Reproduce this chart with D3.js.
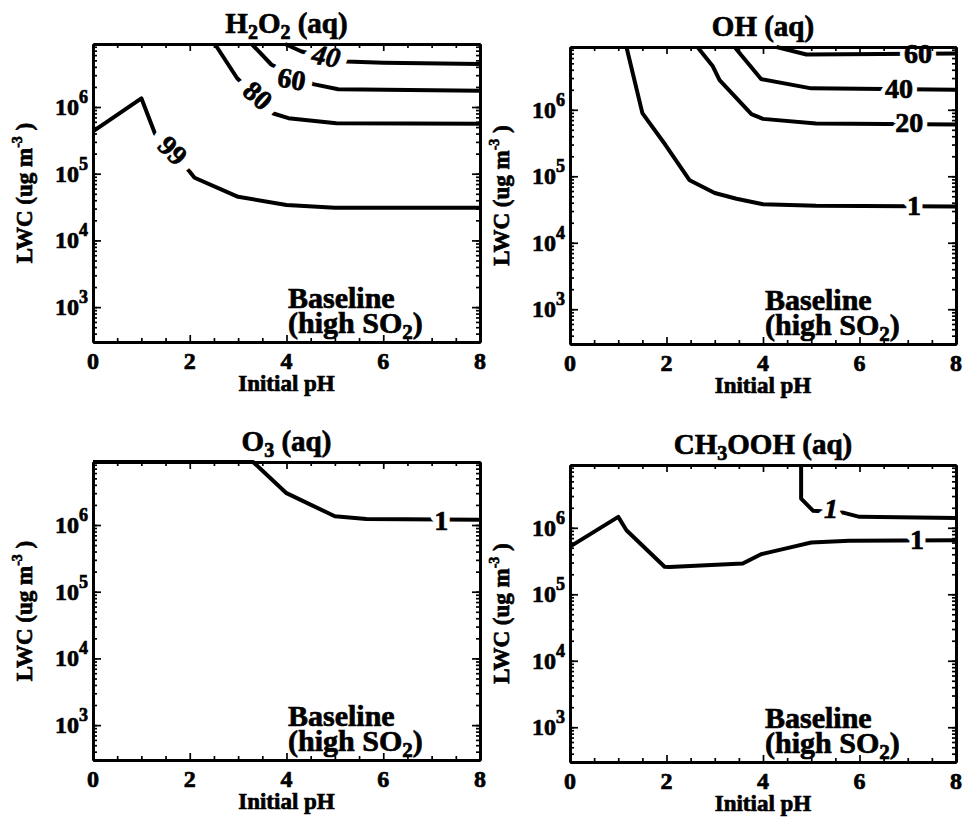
<!DOCTYPE html>
<html>
<head>
<meta charset="utf-8">
<script src="https://cdn.jsdelivr.net/npm/d3@7"></script>
<style>
  body { margin: 0; background: #fff; }
  text { font-family: "Liberation Serif", "Times New Roman", serif; font-weight: bold; fill: #000; }
  .ink { stroke: #000; stroke-width: 0.7px; }
</style>
</head>
<body>
<svg id="chart" width="966" height="826"></svg>
<script>
// ---- axis definitions ----
const xTickValues = [0, 2, 4, 6, 8];
const xMinorValues = [0.5, 1, 1.5, 2.5, 3, 3.5, 4.5, 5, 5.5, 6.5, 7, 7.5];
const yTickExponents = [3, 4, 5, 6];
const pHDomain = [0, 8];
const lwcDomain = [300, 8.8e6];

// ---- H2O2 (aq) contours: % remaining ----
const h2o2Levels = ["99", "80", "60", "40"];
const h2o2_99_pH  = [0, 1.0, 1.28, 2.0, 2.1, 3.0, 4.0, 5.0, 8.0];
const h2o2_99_lwc = [4.3e5, 1.35e6, 4.0e5, 1.07e5, 8.7e4, 4.5e4, 3.4e4, 3.1e4, 3.1e4];
const h2o2_80_pH  = [2.52, 2.98, 3.73, 4.04, 5.03, 8.0];
const h2o2_80_lwc = [8.8e6, 2.7e6, 8.0e5, 6.8e5, 5.7e5, 5.6e5];
const h2o2_60_pH  = [3.28, 3.69, 4.55, 5.07, 8.0];
const h2o2_60_lwc = [8.8e6, 4.3e6, 2.2e6, 1.85e6, 1.75e6];
const h2o2_40_pH  = [3.97, 4.31, 5.24, 6.0, 8.0];
const h2o2_40_lwc = [8.8e6, 6.8e6, 4.8e6, 4.6e6, 4.4e6];

// ---- OH (aq) contours ----
const ohLevels = ["1", "20", "40", "60"];
const oh_1_pH   = [1.17, 1.5, 1.98, 2.48, 3.0, 3.45, 4.0, 5.1, 8.0];
const oh_1_lwc  = [8.8e6, 8.9e5, 2.95e5, 8.7e4, 5.6e4, 4.6e4, 3.8e4, 3.6e4, 3.5e4];
const oh_20_pH  = [2.64, 2.96, 3.10, 3.76, 4.0, 5.1, 8.0];
const oh_20_lwc = [8.8e6, 4.5e6, 2.8e6, 8.6e5, 7.3e5, 6.2e5, 6.0e5];
const oh_40_pH  = [3.41, 3.96, 5.0, 8.0];
const oh_40_lwc = [8.8e6, 2.9e6, 2.1e6, 2.0e6];
const oh_60_pH  = [4.28, 4.9, 8.0];
const oh_60_lwc = [8.8e6, 6.8e6, 7.0e6];

// ---- O3 (aq) contour ----
const o3_1_pH  = [0, 3.31, 4.0, 5.0, 5.65, 8.0];
const o3_1_lwc = [8.8e6, 8.8e6, 3.0e6, 1.35e6, 1.23e6, 1.2e6];

// ---- CH3OOH (aq) contours ----
const ch3_low_pH   = [0, 1.0, 1.17, 1.96, 2.06, 3.58, 3.96, 4.48, 5.0, 5.79, 8.0];
const ch3_low_lwc  = [5.2e5, 1.46e6, 9.2e5, 2.6e5, 2.57e5, 2.9e5, 4.0e5, 4.9e5, 6.0e5, 6.4e5, 6.5e5];
const ch3_high_pH  = [4.79, 4.79, 5.04, 5.68, 6.0, 8.0];
const ch3_high_lwc = [8.8e6, 2.75e6, 1.8e6, 1.68e6, 1.46e6, 1.4e6];

const zip = (xs, ys) => xs.map((x, i) => [x, ys[i]]);

// panel layout and contents
const panels = [
  {
    left: 93, top: 44, width: 387, height: 298,
    title: [["H", 0], ["2", 1], ["O", 0], ["2", 1], [" (aq)", 0]],
    curves: [zip(h2o2_99_pH, h2o2_99_lwc), zip(h2o2_80_pH, h2o2_80_lwc),
             zip(h2o2_60_pH, h2o2_60_lwc), zip(h2o2_40_pH, h2o2_40_lwc)],
    labels: [
      { text: h2o2Levels[0], pH: 1.65, lwc: 2.25e5, rot: 45, gap: 22 },
      { text: h2o2Levels[1], pH: 3.41, lwc: 1.5e6, rot: 42, gap: 20 },
      { text: h2o2Levels[2], pH: 4.11, lwc: 2.65e6, rot: 10, gap: 16 },
      { text: h2o2Levels[3], pH: 4.82, lwc: 5.85e6, rot: 10, gap: 16, italic: true }
    ]
  },
  {
    left: 570, top: 47, width: 386, height: 297,
    title: [["OH (aq)", 0]],
    curves: [zip(oh_1_pH, oh_1_lwc), zip(oh_20_pH, oh_20_lwc),
             zip(oh_40_pH, oh_40_lwc), zip(oh_60_pH, oh_60_lwc)],
    labels: [
      { text: ohLevels[3], pH: 7.21, lwc: 7.0e6, rot: 0, gap: 10 },
      { text: ohLevels[2], pH: 6.82, lwc: 2.15e6, rot: 0, gap: 10 },
      { text: ohLevels[1], pH: 7.03, lwc: 6.6e5, rot: 0, gap: 10 },
      { text: ohLevels[0], pH: 7.13, lwc: 3.65e4, rot: 0, gap: 12 }
    ]
  },
  {
    left: 93, top: 462, width: 387, height: 298,
    title: [["O", 0], ["3", 1], [" (aq)", 0]],
    curves: [zip(o3_1_pH, o3_1_lwc)],
    labels: [{ text: "1", pH: 7.2, lwc: 1.2e6, rot: 0, gap: 12 }]
  },
  {
    left: 570, top: 465, width: 386, height: 297,
    title: [["CH", 0], ["3", 1], ["OOH (aq)", 0]],
    curves: [zip(ch3_low_pH, ch3_low_lwc), zip(ch3_high_pH, ch3_high_lwc)],
    labels: [
      { text: "1", pH: 7.19, lwc: 6.8e5, rot: 0, gap: 12 },
      { text: "1", pH: 5.41, lwc: 1.95e6, rot: 0, gap: 14, italic: true }
    ]
  }
];

const svg = d3.select("#chart");

panels.forEach(p => {
  const g = svg.append("g").attr("transform", `translate(${p.left},${p.top})`);
  const x = d3.scaleLinear().domain(pHDomain).range([0, p.width]);
  const y = d3.scaleLog().domain(lwcDomain).range([p.height, 0]);

  // contour lines
  const line = d3.line().x(d => x(d[0])).y(d => y(d[1]));
  g.append("g").selectAll("path").data(p.curves).join("path")
    .attr("d", line)
    .attr("fill", "none")
    .attr("stroke", "#000")
    .attr("stroke-width", 4)
    .attr("stroke-linejoin", "round");

  // contour labels: a white halo first breaks the line, then the digits
  const labelPos = d => `translate(${x(d.pH)},${y(d.lwc)}) rotate(${d.rot})`;
  const lab = g.append("g");
  lab.selectAll("text.halo").data(p.labels).join("text")
    .attr("class", "halo")
    .attr("transform", labelPos)
    .attr("text-anchor", "middle").attr("dy", "0.35em")
    .attr("font-size", 28)
    .attr("font-style", d => d.italic ? "italic" : "normal")
    .style("fill", "#fff").attr("stroke", "#fff")
    .attr("stroke-width", d => d.gap)
    .attr("stroke-linejoin", "round")
    .text(d => d.text);
  lab.selectAll("text.val").data(p.labels).join("text")
    .attr("class", "val ink")
    .attr("transform", labelPos)
    .attr("text-anchor", "middle").attr("dy", "0.35em")
    .attr("font-size", 28)
    .attr("font-style", d => d.italic ? "italic" : "normal")
    .text(d => d.text);

  // axes: major and minor ticks pointing inward on all four sides
  const logMinor = [];
  for (let e = 2; e <= 6; e++) for (let m = 1; m <= 9; m++) {
    const v = m * Math.pow(10, e);
    if (v >= lwcDomain[0] && v <= lwcDomain[1]) logMinor.push(v);
  }
  const yMajor = yTickExponents.map(e => Math.pow(10, e));
  const axisStyle = sel => {
    sel.selectAll(".domain").attr("stroke-width", 2.8);
    sel.selectAll(".tick line").attr("stroke-width", 1.7);
    sel.selectAll(".tick text").remove();
  };
  const bottom = d3.axisBottom(x).tickFormat("").tickSizeOuter(0);
  const top = d3.axisTop(x).tickFormat("").tickSizeOuter(0);
  const left = d3.axisLeft(y).tickFormat("").tickSizeOuter(0);
  const right = d3.axisRight(y).tickFormat("").tickSizeOuter(0);

  g.append("g").attr("transform", `translate(0,${p.height})`)
    .call(bottom.tickValues(xMinorValues).tickSizeInner(-4)).call(axisStyle);
  g.append("g").attr("transform", `translate(0,${p.height})`)
    .call(bottom.tickValues(xTickValues).tickSizeInner(-7)).call(axisStyle);
  g.append("g")
    .call(top.tickValues(xMinorValues).tickSizeInner(-4)).call(axisStyle);
  g.append("g")
    .call(top.tickValues(xTickValues).tickSizeInner(-7)).call(axisStyle);
  g.append("g")
    .call(left.tickValues(logMinor).tickSizeInner(-4)).call(axisStyle);
  g.append("g")
    .call(left.tickValues(yMajor).tickSizeInner(-8)).call(axisStyle);
  g.append("g").attr("transform", `translate(${p.width},0)`)
    .call(right.tickValues(logMinor).tickSizeInner(-4)).call(axisStyle);
  g.append("g").attr("transform", `translate(${p.width},0)`)
    .call(right.tickValues(yMajor).tickSizeInner(-8)).call(axisStyle);

  // x tick labels
  g.append("g").selectAll("text").data(xTickValues).join("text")
    .attr("class", "ink")
    .attr("x", d => x(d)).attr("y", p.height + 27)
    .attr("text-anchor", "middle").attr("font-size", 24)
    .text(d => d);

  // y tick labels as powers of ten
  const yl = g.append("g").selectAll("text").data(yTickExponents).join("text")
    .attr("class", "ink")
    .attr("x", -5).attr("y", d => y(Math.pow(10, d)) + 8)
    .attr("text-anchor", "end").attr("font-size", 24);
  yl.append("tspan").text("10");
  yl.append("tspan").attr("font-size", 18).attr("dy", -12).text(d => d);

  // axis titles
  g.append("text").attr("class", "ink")
    .attr("x", p.width / 2).attr("y", p.height + 49)
    .attr("text-anchor", "middle").attr("font-size", 23).text("Initial pH");
  const yt = g.append("text").attr("class", "ink")
    .attr("transform", `translate(-61,${p.height / 2}) rotate(-90)`)
    .attr("text-anchor", "middle").attr("font-size", 23);
  yt.append("tspan").text("LWC (ug m");
  yt.append("tspan").attr("font-size", 14).attr("dy", -10).text("-3");
  yt.append("tspan").attr("dy", 10).text(" )");

  // panel title with subscripts
  const t = g.append("text").attr("class", "ink")
    .attr("x", p.width / 2).attr("y", -11)
    .attr("text-anchor", "middle").attr("font-size", 29);
  let prev = 0;
  p.title.forEach(([s, sub]) => {
    const dy = sub ? 6 : (prev ? -6 : 0);
    t.append("tspan").attr("dy", dy).attr("font-size", sub ? 20 : 29).text(s);
    prev = sub;
  });

  // scenario note
  g.append("text").attr("class", "ink")
    .attr("x", 195).attr("y", p.height - 34).attr("font-size", 30).text("Baseline");
  const l2 = g.append("text").attr("class", "ink")
    .attr("x", 195).attr("y", p.height - 9).attr("font-size", 30);
  l2.append("tspan").text("(high SO");
  l2.append("tspan").attr("font-size", 21).attr("dy", 6).text("2");
  l2.append("tspan").attr("dy", -6).text(")");
});
</script>
</body>
</html>
